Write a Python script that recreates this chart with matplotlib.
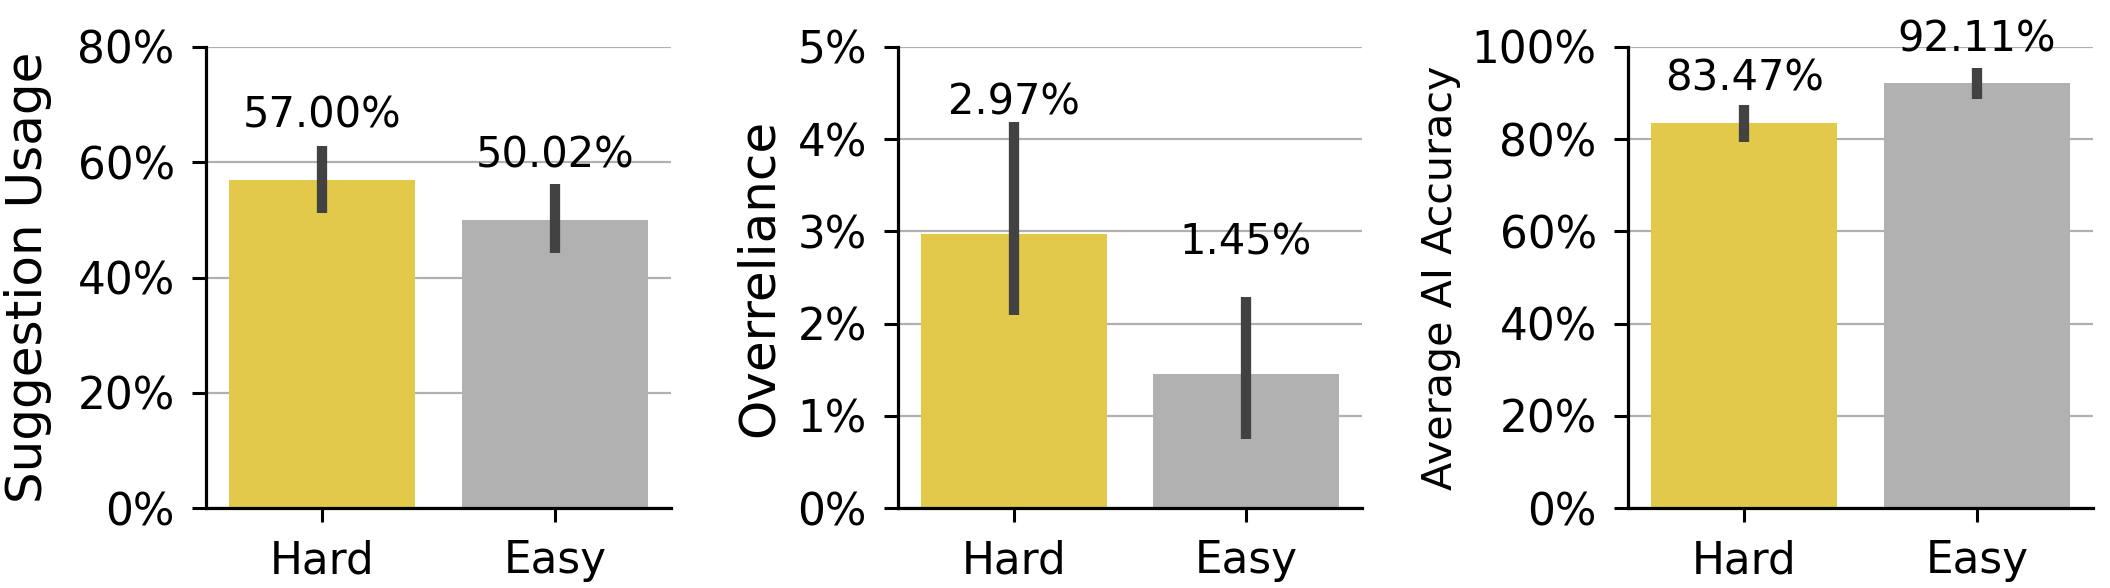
import matplotlib
matplotlib.use('Agg')
import matplotlib.pyplot as plt
from matplotlib.ticker import PercentFormatter

# data (percent)
groups = ['Hard', 'Easy']
usage = [57.00, 50.02]
usage_ci = [(51.2, 62.8), (44.2, 56.2)]
overreliance = [2.97, 1.45]
overreliance_ci = [(2.09, 4.19), (0.75, 2.29)]
accuracy = [83.47, 92.11]
accuracy_ci = [(79.5, 87.4), (88.7, 95.5)]

bar_colors = ['#e3c94a', '#b1b1b1']
err_color = '#424242'

W, H = 2110, 588
fig = plt.figure(figsize=(W / 100, H / 100), dpi=100)


def px_axes(left, right, top=47, bottom=508):
    return fig.add_axes([left / W, 1 - bottom / H, (right - left) / W, (bottom - top) / H])


panels = [
    (206, 671, usage, usage_ci, 'Suggestion Usage', 36, 80, 20, 9.1, -0.331),
    (898, 1362, overreliance, overreliance_ci, 'Overreliance', 36, 5, 1, 1.3, -0.248),
    (1628, 2093, accuracy, accuracy_ci, 'Average AI Accuracy', 29.7, 100, 20, 7.0, -0.36),
]

for left, right, vals, ci, ylabel, lsize, ymax, step, off, lx in panels:
    ax = px_axes(left, right)
    x = range(len(groups))
    ax.bar(x, vals, width=0.8, color=bar_colors, zorder=2)
    for i, (lo, hi) in enumerate(ci):
        ax.plot([i, i], [lo, hi], color=err_color, lw=7.4, solid_capstyle='butt', zorder=3)
        ax.text(i, vals[i] + off, '%.2f%%' % vals[i], ha='center', va='baseline',
                fontsize=30, zorder=4)
    ax.set_xlim(-0.5, 1.5)
    ax.set_ylim(0, ymax)
    ax.set_yticks([step * k for k in range(int(ymax / step) + 1)])
    ax.yaxis.set_major_formatter(PercentFormatter(100, decimals=0))
    ax.set_xticks(list(x))
    ax.set_xticklabels(groups)
    ax.grid(axis='y', color='#b0b0b0', lw=1.6, zorder=0)
    ax.set_axisbelow(True)
    for s in ['top', 'right']:
        ax.spines[s].set_visible(False)
    for s in ['left', 'bottom']:
        ax.spines[s].set_linewidth(2.3)
    ax.tick_params(labelsize=31.5, length=10, width=2.2, pad=12.5)
    ax.set_ylabel(ylabel, fontsize=lsize)
    ax.yaxis.set_label_coords(lx, 0.5)

fig.savefig('out.png', dpi=100)
